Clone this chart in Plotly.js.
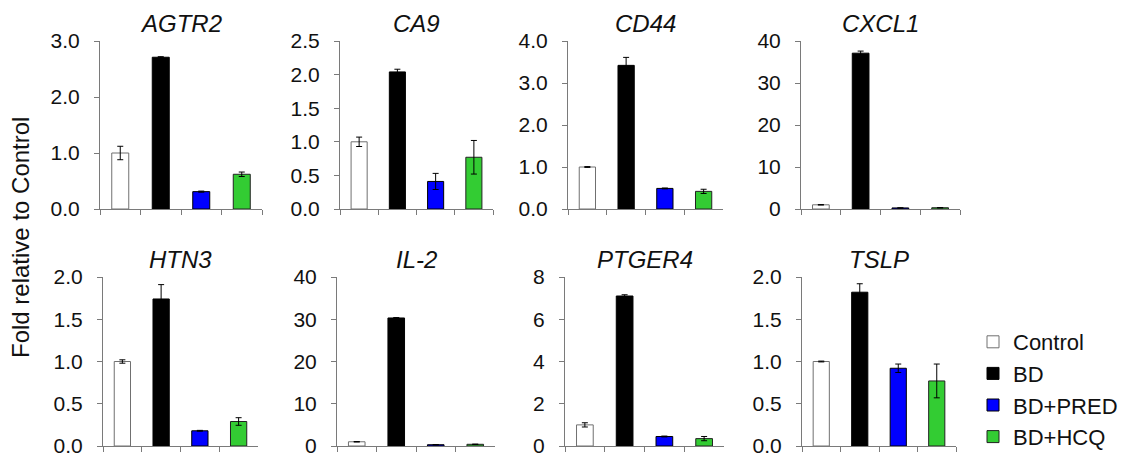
<!DOCTYPE html>
<html>
<head>
<meta charset="utf-8">
<script src="https://cdn.plot.ly/plotly-3.0.1.min.js"></script>
<style>html,body{margin:0;padding:0;background:#fff;}#chart{width:1146px;height:469px;}</style>
</head>
<body>
<div id="chart"></div>
<script>
// ---- data ----
var genes = ["AGTR2", "CA9", "CD44", "CXCL1", "HTN3", "IL-2", "PTGER4", "TSLP"];
var groups = ["Control", "BD", "BD+PRED", "BD+HCQ"];
var controlVals = [1.0, 1.0, 1.0, 1.0, 1.0, 1.0, 1.0, 1.0];
var controlErr  = [0.12, 0.07, 0.01, 0.05, 0.02, 0.05, 0.10, 0.005];
var bdVals      = [2.71, 2.04, 3.42, 37.1, 1.74, 30.3, 7.1, 1.82];
var bdErr       = [0.01, 0.04, 0.19, 0.5, 0.17, 0.1, 0.06, 0.1];
var predVals    = [0.31, 0.41, 0.49, 0.25, 0.18, 0.3, 0.45, 0.92];
var predErr     = [0.01, 0.12, 0.01, 0.05, 0.005, 0.05, 0.02, 0.05];
var hcqVals     = [0.62, 0.77, 0.42, 0.3, 0.29, 0.4, 0.35, 0.77];
var hcqErr      = [0.04, 0.25, 0.05, 0.05, 0.045, 0.05, 0.1, 0.2];
var yMax   = [3.0, 2.5, 4.0, 40, 2.0, 40, 8, 2.0];
var yStep  = [1.0, 0.5, 1.0, 10, 0.5, 10, 2, 0.5];
var yFmt   = [".1f", ".1f", ".1f", "d", ".1f", "d", "d", ".1f"];

// ---- styling ----
var fills = ["#ffffff", "#000000", "#0000ff", "#33cc33"];
var outlines = ["#707070", "#000000", "#000000", "#222222"];
var W = 1146, H = 469;
var xPix = [[100,262],[340,493],[568,723],[801,960],[103,258],[337,495],[565,724],[802,956]];
var rowY = [[41,209],[277,446]];
var FONT = "Liberation Sans, Arial, sans-serif";

var valsByGroup = [controlVals, bdVals, predVals, hcqVals];
var errByGroup = [controlErr, bdErr, predErr, hcqErr];

var traces = [];
var layout = {
  width: W, height: H,
  margin: {l:0, r:0, t:0, b:0},
  paper_bgcolor: "#fff", plot_bgcolor: "rgba(0,0,0,0)",
  barmode: "overlay",
  showlegend: true,
  legend: {x: 973/W, y: 1-321/H, xanchor: "left", yanchor: "top",
           font: {family: FONT, size: 22, color: "#111"}, tracegroupgap: 0,
           bgcolor: "rgba(0,0,0,0)"},
  annotations: [],
  font: {family: FONT, color: "#111"}
};

for (var i = 0; i < genes.length; i++) {
  var n = i + 1;
  var xa = "x" + (n === 1 ? "" : n), ya = "y" + (n === 1 ? "" : n);
  for (var g = 0; g < groups.length; g++) {
    traces.push({
      type: "bar", x: [groups[g]], y: [valsByGroup[g][i]],
      xaxis: xa, yaxis: ya, width: 0.42, name: groups[g],
      legendgroup: groups[g], showlegend: i === 0,
      marker: {color: fills[g], line: {color: outlines[g], width: 1}},
      error_y: {type: "data", array: [errByGroup[g][i]], visible: true,
                color: "#000", thickness: 1, width: 3},
      hoverinfo: "skip"
    });
  }
  var row = i < 4 ? 0 : 1;
  var px = xPix[i], py = rowY[row];
  layout["xaxis" + (n === 1 ? "" : n)] = {
    domain: [px[0]/W, px[1]/W], anchor: ya, type: "category",
    categoryorder: "array", categoryarray: groups, range: [-0.5, 3.5],
    showline: true, linecolor: "#7a7a7a", linewidth: 1,
    ticks: "outside", tickson: "boundaries", ticklen: 5, tickcolor: "#7a7a7a",
    showticklabels: false, showgrid: false, zeroline: false, fixedrange: true
  };
  layout["yaxis" + (n === 1 ? "" : n)] = {
    domain: [1 - py[1]/H, 1 - py[0]/H], anchor: xa,
    range: [0, yMax[i]], dtick: yStep[i], tick0: 0, tickformat: yFmt[i],
    showline: true, linecolor: "#7a7a7a", linewidth: 1,
    ticks: "outside", ticklen: 5, tickcolor: "#7a7a7a",
    tickfont: {family: FONT, size: 21, color: "#111"}, ticklabelstandoff: 10,
    showgrid: false, zeroline: false, fixedrange: true, automargin: false
  };
  layout.annotations.push({
    xref: "paper", yref: "paper", x: (px[0]+px[1])/2/W,
    y: row === 0 ? 1 - 23/H : 1 - 259/H,
    xanchor: "center", yanchor: "middle", showarrow: false,
    text: "<i>" + genes[i] + "</i>",
    font: {family: FONT, size: 24, color: "#111"}
  });
}

layout.annotations.push({
  xref: "paper", yref: "paper", x: 20/W, y: 1 - 238/H,
  xanchor: "center", yanchor: "middle", showarrow: false, textangle: -90,
  text: "Fold relative to Control",
  font: {family: FONT, size: 24, color: "#111"}
});

Plotly.newPlot("chart", traces, layout, {staticPlot: true, displayModeBar: false});
</script>
</body>
</html>
